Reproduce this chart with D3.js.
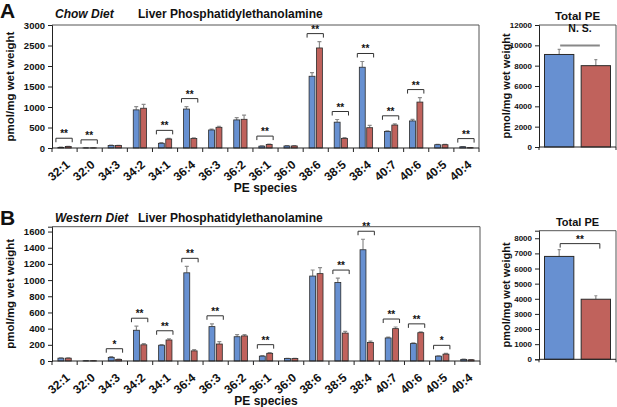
<!DOCTYPE html>
<html>
<head>
<meta charset="utf-8">
<script src="https://cdn.jsdelivr.net/npm/d3@7"></script>
<style>
  body { margin: 0; background: #fff; }
  text { font-family: "Liberation Sans", Arial, sans-serif; font-weight: bold; fill: #111; }
</style>
</head>
<body>
<svg id="chart" width="617" height="407"></svg>
<script>
// PE species on the x axis
const species = ["32:1","32:0","34:3","34:2","34:1","36:4","36:3","36:2","36:1","36:0","38:6","38:5","38:4","40:7","40:6","40:5","40:4"]

// chow diet (panel A)
const chowBlue    = [15, 3, 60, 930, 115, 950, 440, 685, 45, 50, 1750, 630, 1970, 405, 660, 80, 30]
const chowBlueErr = [5, 1, 8, 80, 15, 60, 20, 55, 8, 6, 90, 65, 140, 15, 40, 6, 4]
const chowRed     = [35, 3, 60, 970, 220, 230, 505, 700, 85, 50, 2440, 235, 495, 560, 1120, 80, 8]
const chowRedErr  = [8, 1, 6, 95, 15, 20, 25, 100, 10, 6, 155, 20, 55, 30, 110, 6, 2]
const chowSig     = ["**","**","","","**","**","","","**","","**","**","**","**","**","","**"]
const chowTicks   = [0, 500, 1000, 1500, 2000, 2500, 3000]

// western diet (panel B)
const westBlue    = [35, 3, 45, 380, 195, 1090, 425, 300, 60, 30, 1050, 970, 1375, 285, 215, 60, 20]
const westBlueErr = [5, 1, 8, 50, 8, 80, 35, 25, 6, 4, 75, 55, 130, 10, 10, 5, 3]
const westRed     = [35, 3, 20, 200, 260, 125, 210, 310, 95, 30, 1080, 345, 230, 400, 350, 85, 15]
const westRedErr  = [5, 1, 5, 15, 15, 15, 30, 15, 8, 4, 75, 20, 15, 20, 10, 10, 3]
const westSig     = ["","","*","**","**","**","**","","**","","","**","**","**","**","*",""]
const westTicks   = [0, 200, 400, 600, 800, 1000, 1200, 1400, 1600]

// total PE
const chowTotal    = [9100, 8000]
const chowTotalErr = [500, 600]
const chowTotalTicks = [0, 2000, 4000, 6000, 8000, 10000, 12000]
const westTotal    = [6800, 3970]
const westTotalErr = [450, 230]
const westTotalTicks = [0, 1000, 2000, 3000, 4000, 5000, 6000, 7000, 8000]

const BLUE = "#6790d1", RED = "#c0625c", EDGE = "#2a2a2a", ERR = "#8c8c8c"

const svg = d3.select("#chart")

function frame(g, x0, x1, yTop, yZero) {
  g.append("path")
    .attr("d", `M${x0},${yTop}H${x1}V${yZero}`)
    .attr("fill", "none").attr("stroke", "#555").attr("stroke-width", 1)
}

function yAxis(g, y, x0, ticks, fs) {
  const ax = g.append("g").attr("transform", `translate(${x0},0)`)
    .call(d3.axisLeft(y).tickValues(ticks).tickSize(4).tickPadding(3).tickFormat(d3.format("d")))
  ax.select(".domain").attr("stroke", "#222")
  ax.selectAll(".tick line").attr("stroke", "#222")
  ax.selectAll(".tick text").style("font-size", fs + "px").attr("fill", "#111")
}

function errBars(g, xs, vals, errs, y, cap) {
  g.selectAll(null).data(vals).enter().append("path")
    .attr("d", (d, i) => `M${xs(i)},${y(d)}V${y(d + errs[i])}M${xs(i) - cap},${y(d + errs[i])}H${xs(i) + cap}`)
    .attr("stroke", ERR).attr("stroke-width", 1.2).attr("fill", "none")
}

function speciesPanel(opt) {
  const g = svg.append("g")
  const x = d3.scaleBand().domain(species).range([opt.x0, opt.x1])
  const inner = d3.scaleBand().domain(["b", "r"]).range([0, x.bandwidth()]).paddingInner(0.2).paddingOuter(0.8)
  const y = d3.scaleLinear().domain([0, opt.max]).range([opt.yZero, opt.yTop])

  frame(g, opt.x0, opt.x1, opt.yTop, opt.yZero)

  const series = [["b", opt.blue, opt.blueErr, BLUE], ["r", opt.red, opt.redErr, RED]]
  series.forEach(([k, vals, errs, col]) => {
    errBars(g, i => x(species[i]) + inner(k) + inner.bandwidth() / 2, vals, errs, y, 2)
    g.selectAll(null).data(vals).enter().append("rect")
      .attr("x", (d, i) => x(species[i]) + inner(k))
      .attr("y", d => y(d))
      .attr("width", inner.bandwidth())
      .attr("height", d => opt.yZero - y(d))
      .attr("fill", col).attr("stroke", EDGE).attr("stroke-width", 0.8)
  })

  // significance brackets
  species.forEach((s, i) => {
    if (!opt.sig[i]) return
    const top = Math.max(opt.blue[i] + opt.blueErr[i], opt.red[i] + opt.redErr[i])
    const by = y(top) - 8
    const xl = x(s) + inner("b") - 2, xr = x(s) + inner("r") + inner.bandwidth() + 1
    g.append("path").attr("d", `M${xl},${by + 4}V${by}H${xr}V${by + 4}`)
      .attr("fill", "none").attr("stroke", "#333").attr("stroke-width", 1)
    g.append("text").attr("x", (xl + xr) / 2).attr("y", by - 1)
      .attr("text-anchor", "middle").style("font-size", "10px").text(opt.sig[i])
  })

  // x axis with boundary ticks
  g.append("line").attr("x1", opt.x0).attr("x2", opt.x1).attr("y1", opt.yZero).attr("y2", opt.yZero).attr("stroke", "#222")
  const bounds = species.map(s => x(s)).concat([opt.x1])
  g.selectAll(null).data(bounds).enter().append("line")
    .attr("x1", d => d).attr("x2", d => d).attr("y1", opt.yZero).attr("y2", opt.yZero + 4).attr("stroke", "#222")
  g.selectAll(null).data(species).enter().append("text")
    .attr("text-anchor", "end")
    .attr("transform", s => `translate(${x(s) + x.bandwidth() / 2 + 6},${opt.yZero + 18}) rotate(-40)`)
    .style("font-size", "12px").text(s => s)

  yAxis(g, y, opt.x0, opt.ticks, 9.5)

  g.append("text").attr("transform", `translate(14,${(opt.yTop + opt.yZero) / 2}) rotate(-90)`)
    .attr("text-anchor", "middle").style("font-size", "11.5px").text("pmol/mg wet weight")
  g.append("text").attr("x", (opt.x0 + opt.x1) / 2).attr("y", opt.labelY)
    .attr("text-anchor", "middle").style("font-size", "12px").text("PE species")

  g.append("text").attr("x", 0).attr("y", opt.letterY).style("font-size", "21px").text(opt.letter)
  g.append("text").attr("x", 55).attr("y", opt.titleY).style("font-size", "12px").style("font-style", "italic").text(opt.diet)
  g.append("text").attr("x", 138).attr("y", opt.titleY).style("font-size", "12px").text("Liver Phosphatidylethanolamine")
}

function totalPanel(opt) {
  const g = svg.append("g")
  const groups = ["Ctrl", "KO"]
  const x = d3.scaleBand().domain(groups).range([opt.x0, opt.x1]).paddingInner(0.2).paddingOuter(0.15)
  const y = d3.scaleLinear().domain([0, opt.max]).range([opt.yZero, opt.yTop])

  frame(g, opt.x0, opt.x1, opt.yTop, opt.yZero)
  errBars(g, i => x(groups[i]) + x.bandwidth() / 2, opt.vals, opt.errs, y, 1.5)
  g.selectAll(null).data(opt.vals).enter().append("rect")
    .attr("x", (d, i) => x(groups[i]))
    .attr("y", d => y(d))
    .attr("width", x.bandwidth())
    .attr("height", d => opt.yZero - y(d))
    .attr("fill", (d, i) => i ? RED : BLUE).attr("stroke", EDGE).attr("stroke-width", 1)

  g.append("line").attr("x1", opt.x0).attr("x2", opt.x1).attr("y1", opt.yZero).attr("y2", opt.yZero).attr("stroke", "#222")
  g.selectAll(null).data([opt.x0, opt.x1]).enter().append("line")
    .attr("x1", d => d).attr("x2", d => d).attr("y1", opt.yZero).attr("y2", opt.yZero + 3).attr("stroke", "#222")
  yAxis(g, y, opt.x0, opt.ticks, 8)

  const top = d3.max(opt.vals.map((v, i) => v + opt.errs[i]))
  const by = y(top) - 6
  const xl = x("Ctrl") + x.bandwidth() / 2 + 1, xr = x("KO") + x.bandwidth() / 2 + 4
  if (opt.legs) {
    g.append("path").attr("d", `M${xl},${by + 4}V${by}H${xr}V${by + 5}`)
      .attr("fill", "none").attr("stroke", "#333").attr("stroke-width", 1)
    g.append("text").attr("x", (xl + xr) / 2).attr("y", by - 1).attr("text-anchor", "middle")
      .style("font-size", "10px").text(opt.sig)
  } else {
    g.append("line").attr("x1", xl).attr("x2", xr).attr("y1", by + 2).attr("y2", by + 2)
      .attr("stroke", "#888").attr("stroke-width", 2)
    g.append("text").attr("x", (xl + xr) / 2).attr("y", by - 11).attr("text-anchor", "middle")
      .style("font-size", "10.5px").text(opt.sig)
  }

  g.append("text").attr("x", (opt.x0 + opt.x1) / 2).attr("y", opt.titleY)
    .attr("text-anchor", "middle").style("font-size", opt.titleSize + "px").text("Total PE")
  g.append("text").attr("transform", `translate(510,${(opt.yTop + opt.yZero) / 2}) rotate(-90)`)
    .attr("text-anchor", "middle").style("font-size", "11px").text("pmol/mg wet weight")
}

speciesPanel({ letter: "A", diet: "Chow Diet", x0: 52, x1: 479, yTop: 25, yZero: 148, max: 3000,
  letterY: 17.5, titleY: 18, labelY: 192,
  blue: chowBlue, blueErr: chowBlueErr, red: chowRed, redErr: chowRedErr, sig: chowSig, ticks: chowTicks })
speciesPanel({ letter: "B", diet: "Western Diet", x0: 52, x1: 480, yTop: 226.7, yZero: 361, max: 1660,
  letterY: 225, titleY: 222, labelY: 405,
  blue: westBlue, blueErr: westBlueErr, red: westRed, redErr: westRedErr, sig: westSig, ticks: westTicks })

totalPanel({ x0: 539, x1: 616, yTop: 25, yZero: 147, max: 12000, vals: chowTotal, errs: chowTotalErr,
  ticks: chowTotalTicks, sig: "N. S.", legs: false, titleY: 20, titleSize: 11.5 })
totalPanel({ x0: 539, x1: 616, yTop: 230.7, yZero: 359.3, max: 8500, vals: westTotal, errs: westTotalErr,
  ticks: westTotalTicks, sig: "**", legs: true, titleY: 226, titleSize: 11 })
</script>
</body>
</html>
